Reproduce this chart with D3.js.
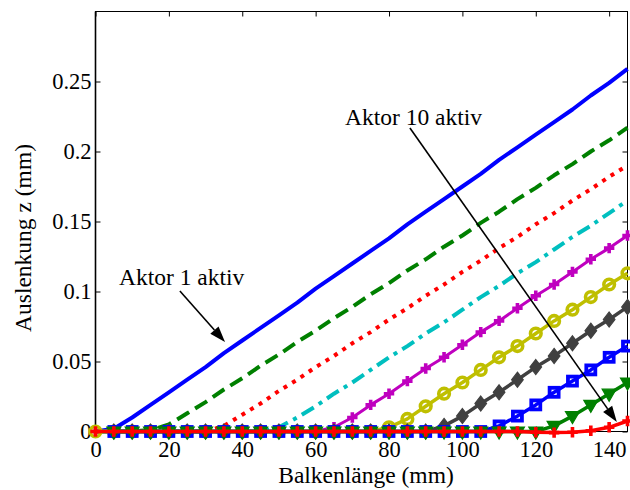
<!DOCTYPE html>
<html><head><meta charset="utf-8">
<script src="https://cdn.jsdelivr.net/npm/d3@7"></script>
<style>
body{margin:0;background:#fff}
svg{display:block}
text{font-family:"Liberation Serif","Times New Roman",serif;fill:#000}
</style>
</head><body>
<svg id="chart" width="630" height="490"></svg>
<script>
// ---- data ----
const balkenlaenge = [0,5,10,15,20,25,30,35,40,45,50,55,60,65,70,75,80,85,90,95,100,105,110,115,120,125,130,135,140,145];
const aktor1  = [0,0.002,0.010,0.019,0.028,0.037,0.046,0.056,0.065,0.074,0.083,0.092,0.102,0.111,0.120,0.129,0.138,0.148,0.157,0.166,0.175,0.184,0.194,0.203,0.212,0.221,0.230,0.240,0.249,0.259];
const aktor2  = [0,0,0,0.001,0.005,0.013,0.021,0.030,0.038,0.047,0.055,0.064,0.072,0.081,0.089,0.098,0.106,0.115,0.123,0.132,0.140,0.149,0.157,0.166,0.174,0.183,0.191,0.200,0.208,0.217];
const aktor3  = [0,0,0,0,0,0,0,0.004,0.012,0.020,0.029,0.037,0.046,0.054,0.063,0.071,0.080,0.088,0.097,0.105,0.114,0.122,0.131,0.139,0.148,0.156,0.165,0.173,0.182,0.190];
const aktor4  = [0,0,0,0,0,0,0,0,0,0,0.003,0.010,0.018,0.027,0.035,0.044,0.053,0.061,0.070,0.078,0.087,0.096,0.104,0.113,0.121,0.130,0.139,0.147,0.156,0.165];
const aktor5  = [0,0,0,0,0,0,0,0,0,0,0,0,0,0.003,0.010,0.019,0.027,0.036,0.045,0.053,0.062,0.071,0.079,0.088,0.097,0.105,0.114,0.123,0.131,0.140];
const aktor6  = [0,0,0,0,0,0,0,0,0,0,0,0,0,0,0,0,0.003,0.009,0.018,0.027,0.035,0.044,0.053,0.061,0.070,0.079,0.087,0.096,0.105,0.113];
const aktor7  = [null,0,0,0,0,0,0,0,0,0,0,0,0,0,0,0,0,0,0,0.004,0.011,0.020,0.028,0.037,0.046,0.054,0.063,0.072,0.080,0.089];
const aktor8  = [null,0,0,0,0,0,0,0,0,0,0,0,0,0,0,0,0,0,0,0,0,0,0.004,0.011,0.019,0.028,0.036,0.044,0.053,0.061];
const aktor9  = [null,0,0,0,0,0,0,0,0,0,0,0,0,0,0,0,0,0,0,0,0,0,0,0,0,0.004,0.011,0.019,0.027,0.035];
const aktor10 = [0,0,0,0,0,0,0,0,0,0,0,0,0,0,0,0,0,0,0,0,0,0,0,0,-0.0005,-0.0008,-0.0005,0.0005,0.003,0.0075];
const seriesValues = [aktor1,aktor2,aktor3,aktor4,aktor5,aktor6,aktor7,aktor8,aktor9,aktor10];

const xTicks = [0,20,40,60,80,100,120,140];
const yTicks = [0,0.05,0.1,0.15,0.2,0.25];
const yTickLabels = ["0","0.05","0.1","0.15","0.2","0.25"];
const xTitle = "Balkenlänge (mm)";
const yTitle = "Auslenkung z (mm)";
const annotationTexts = ["Aktor 1 aktiv","Aktor 10 aktiv"];
// annotation anchors in data units: [text x, text y, arrow tail x, tail y, tip x, tip y]
const annotationPos = [[6.4,0.1046,23.0,0.1004,35.3,0.0639],[68.0,0.2189,85.7,0.2168,142.1,0.0068]];

// ---- styles ----
const seriesStyle = [
  {color:"#0000ff", width:4, dash:null, marker:null},
  {color:"#008000", width:4, dash:"14,7", marker:null},
  {color:"#ff0000", width:4, dash:"4,6", marker:null},
  {color:"#00bfbf", width:4, dash:"14,6,4,6", marker:null},
  {color:"#bf00bf", width:3, dash:null, marker:"plus"},
  {color:"#bfbf00", width:3.5, dash:null, marker:"circle"},
  {color:"#404040", width:3.5, dash:null, marker:"diamond"},
  {color:"#0000ff", width:3.5, dash:null, marker:"square"},
  {color:"#008000", width:3.5, dash:null, marker:"triangle"},
  {color:"#ff0000", width:3.5, dash:null, marker:"plus"}
];

const svg = d3.select("#chart");
const L = 95.5, R = 627.5, T = 11.5, B = 431.5;
const x = d3.scaleLinear().domain([0,145]).range([L,R]);
const y = d3.scaleLinear().domain([0,0.3]).range([B,T]);
const FS = 23.5, FT = 22.5;

// axes
const gx = svg.append("g").attr("transform",`translate(0,${B})`)
  .call(d3.axisBottom(x).tickValues(xTicks).tickSizeInner(-5).tickSizeOuter(0).tickPadding(9.5).tickFormat(d3.format("d")));
const gy = svg.append("g").attr("transform",`translate(${L},0)`)
  .call(d3.axisLeft(y).tickValues(yTicks).tickSizeInner(-5).tickSizeOuter(0).tickPadding(4).tickFormat((d,i)=>yTickLabels[i]));
const gt = svg.append("g").attr("transform",`translate(0,${T})`)
  .call(d3.axisTop(x).tickValues(xTicks).tickSizeInner(-5).tickSizeOuter(0).tickFormat(""));
const gr = svg.append("g").attr("transform",`translate(${R},0)`)
  .call(d3.axisRight(y).tickValues(yTicks).tickSizeInner(-5).tickSizeOuter(0).tickFormat(""));
[gx,gy,gt,gr].forEach(g=>{
  g.attr("font-family",null).attr("font-size",null);
  g.select(".domain").remove();
  g.selectAll("line").attr("stroke","#000").attr("stroke-width",1);
  g.selectAll("text").style("font-size",FT+"px");
});
svg.append("rect").attr("x",L).attr("y",T).attr("width",R-L).attr("height",B-T)
  .attr("fill","none").attr("stroke","#000").attr("stroke-width",1);
svg.append("line").attr("x1",L).attr("x2",L).attr("y1",T).attr("y2",B).attr("stroke","#000").attr("stroke-width",1.6);

// series
const line = d3.line().defined(d=>d[1]!==null).x(d=>x(d[0])).y(d=>y(d[1]));
const markerPath = {
  plus: "M-5.2,0H5.2M0,-5.2V5.2",
  diamond: "M0,-7.5L5.8,0L0,7.5L-5.8,0Z",
  triangle: "M-7,-4.5L7,-4.5L0,7.5Z"
};
seriesValues.forEach((vals,i)=>{
  const st = seriesStyle[i];
  const pts = balkenlaenge.map((xv,j)=>[xv, vals[j]]);
  svg.append("path").datum(pts).attr("d",line)
    .attr("fill","none").attr("stroke",st.color).attr("stroke-width",st.width)
    .attr("stroke-dasharray",st.dash).attr("stroke-linejoin","round");
  if(st.marker){
    const mp = pts.filter(d=>d[1]!==null);
    const g = svg.append("g");
    if(st.marker==="circle"){
      g.selectAll("circle").data(mp).join("circle")
        .attr("cx",d=>x(d[0])).attr("cy",d=>y(d[1])).attr("r",5.3)
        .attr("fill","none").attr("stroke",st.color).attr("stroke-width",3.6);
    } else if(st.marker==="square"){
      g.selectAll("rect").data(mp).join("rect")
        .attr("x",d=>x(d[0])-4.5).attr("y",d=>y(d[1])-4.5).attr("width",9).attr("height",9)
        .attr("fill","none").attr("stroke",st.color).attr("stroke-width",3.8);
    } else if(st.marker==="plus"){
      g.selectAll("path").data(mp).join("path")
        .attr("transform",d=>`translate(${x(d[0])},${y(d[1])})`).attr("d",markerPath.plus)
        .attr("fill","none").attr("stroke",st.color).attr("stroke-width",3.6);
    } else {
      g.selectAll("path").data(mp).join("path")
        .attr("transform",d=>`translate(${x(d[0])},${y(d[1])})`).attr("d",markerPath[st.marker])
        .attr("fill",st.color).attr("stroke",st.color).attr("stroke-width",1.2);
    }
  }
});

// annotations
annotationPos.forEach((p,i)=>{
  svg.append("text").attr("x",x(p[0])).attr("y",y(p[1])).style("font-size",FS+"px").text(annotationTexts[i]);
  const x1=x(p[2]), y1=y(p[3]), x2=x(p[4]), y2=y(p[5]);
  const ang=Math.atan2(y2-y1,x2-x1), len=16, hw=5.5;
  const bx=x2-len*Math.cos(ang), by=y2-len*Math.sin(ang);
  svg.append("line").attr("x1",x1).attr("y1",y1).attr("x2",bx).attr("y2",by)
    .attr("stroke","#000").attr("stroke-width",1.6);
  svg.append("path").attr("d",`M${x2},${y2}L${bx+hw*Math.sin(ang)},${by-hw*Math.cos(ang)}L${bx-hw*Math.sin(ang)},${by+hw*Math.cos(ang)}Z`)
    .attr("fill","#000");
});

// titles
svg.append("text").attr("x",366).attr("y",483).attr("text-anchor","middle").style("font-size",FS+"px").text(xTitle);
svg.append("text").attr("transform","translate(31,238) rotate(-90)").attr("text-anchor","middle").style("font-size",FS+"px").text(yTitle);
</script>
</body></html>
